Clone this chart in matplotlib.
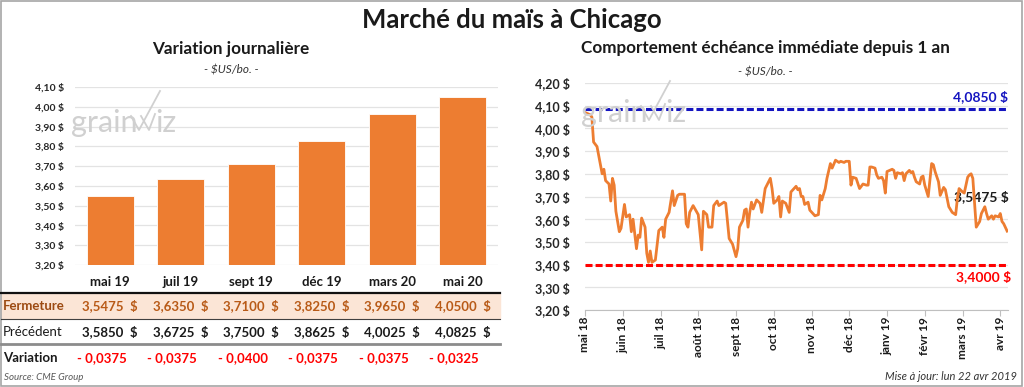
import matplotlib
matplotlib.use("Agg")
import matplotlib.pyplot as plt
from matplotlib.lines import Line2D
from matplotlib.patches import Rectangle
from matplotlib.transforms import blended_transform_factory

plt.rcParams['font.family'] = ['Lato', 'DejaVu Sans']

# ============================================================
# Data
# ============================================================

contracts = ["mai 19", "juil 19", "sept 19", "déc 19", "mars 20", "mai 20"]
closing = [3.5475, 3.6350, 3.7100, 3.8250, 3.9650, 4.0500]
previous = [3.5850, 3.6725, 3.7500, 3.8625, 4.0025, 4.0825]
change = [-0.0375, -0.0375, -0.0400, -0.0375, -0.0375, -0.0325]

month_labels = ["mai 18", "juin 18", "juil 18", "août 18", "sept 18", "oct 18",
                "nov 18", "déc 18", "janv 19", "févr 19", "mars 19", "avr 19"]
sessions_per_label = 22

# nearby contract, trading session index vs price ($US/bo.)
session = [0, 3, 4, 5, 7, 9, 10, 11, 12, 14, 15, 16, 17, 18, 20, 21, 23, 24, 26, 27,
           28, 30, 31, 32, 33, 35, 36, 37, 38, 39, 41, 43, 45, 46, 47, 49, 51, 52, 54, 55,
           58, 59, 60, 61, 63, 66, 68, 69, 71, 72, 74, 75, 77, 78, 81, 82, 84, 86, 88, 89,
           90, 92, 93, 94, 95, 96, 97, 98, 100, 102, 103, 105, 108, 109, 110, 112, 113, 114, 115, 117,
           119, 120, 123, 124, 125, 126, 127, 128, 130, 131, 134, 136, 137, 138, 140, 141, 143, 144, 146, 148,
           149, 151, 152, 154, 155, 156, 158, 160, 162, 164, 165, 166, 167, 169, 170, 171, 173, 174, 175, 176,
           179, 180, 181, 182, 184, 185, 186, 187, 189, 190, 191, 192, 193, 195, 196, 197, 198, 200, 202, 203,
           204, 206, 207, 209, 210, 212, 214, 216, 217, 218, 220, 221, 223, 224, 225, 226, 227, 228, 230, 231,
           233, 234, 235, 237, 238, 239, 241, 242, 243, 244, 246]
price = [4.07, 4.06, 4.05, 3.94, 3.92, 3.84, 3.80, 3.82, 3.77, 3.755, 3.68, 3.78, 3.75, 3.635, 3.545, 3.56, 3.665, 3.61, 3.62, 3.545,
         3.60, 3.47, 3.53, 3.52, 3.605, 3.565, 3.45, 3.41, 3.46, 3.41, 3.42, 3.55, 3.565, 3.52, 3.60, 3.63, 3.725, 3.66, 3.705, 3.71,
         3.71, 3.58, 3.565, 3.63, 3.66, 3.62, 3.465, 3.635, 3.62, 3.565, 3.565, 3.66, 3.68, 3.66, 3.675, 3.67, 3.515, 3.49, 3.435, 3.47,
         3.565, 3.595, 3.64, 3.645, 3.565, 3.63, 3.675, 3.645, 3.685, 3.67, 3.63, 3.735, 3.78, 3.735, 3.67, 3.685, 3.70, 3.61, 3.68, 3.67,
         3.63, 3.72, 3.745, 3.73, 3.735, 3.70, 3.70, 3.665, 3.675, 3.64, 3.615, 3.62, 3.705, 3.685, 3.735, 3.78, 3.845, 3.825, 3.86, 3.85,
         3.855, 3.85, 3.855, 3.855, 3.75, 3.785, 3.78, 3.735, 3.755, 3.75, 3.75, 3.83, 3.83, 3.825, 3.795, 3.78, 3.785, 3.77, 3.715, 3.81,
         3.82, 3.815, 3.78, 3.805, 3.80, 3.805, 3.77, 3.80, 3.815, 3.805, 3.81, 3.785, 3.765, 3.755, 3.785, 3.79, 3.75, 3.70, 3.845, 3.84,
         3.81, 3.765, 3.705, 3.74, 3.73, 3.655, 3.63, 3.62, 3.69, 3.735, 3.72, 3.715, 3.785, 3.795, 3.80, 3.78, 3.67, 3.565, 3.59, 3.625,
         3.655, 3.625, 3.60, 3.615, 3.60, 3.615, 3.61, 3.625, 3.59, 3.58, 3.5475]

high_1y = 4.0850
low_1y = 3.4000

# ============================================================
# Helpers
# ============================================================

W, H = 1024, 387
ORANGE = "#ED7D31"
GRID = "#E3E3E3"


def fx(x):
    return x / W


def fy(y):
    return 1 - y / H


def dollars(v, nd):
    return f"{v:.{nd}f}".replace(".", ",") + " $"


fig = plt.figure(figsize=(W / 100, H / 100), dpi=100)

# outer frame
fig.patches.append(Rectangle((0.001, 0.003), 0.997, 0.994, transform=fig.transFigure,
                             fill=False, edgecolor="#A6A6A6", lw=1.2))

fig.text(0.5, fy(20), "Marché du maïs à Chicago", ha="center", va="center",
         fontsize=18.5, fontweight="bold", color="#1a1a1a")

# ============================================================
# Left: daily variation bars + table
# ============================================================

fig.text(fx(231), fy(49), "Variation journalière", ha="center", va="center",
         fontsize=12.3, fontweight="bold", color="#1a1a1a")
fig.text(fx(231), fy(70), "- $US/bo. -", ha="center", va="center",
         fontsize=8.5, style="italic", color="#333333")

ax1 = fig.add_axes([fx(75), fy(265), (498 - 75) / W, (265 - 87) / H])
x_pos = list(range(len(contracts)))
ax1.bar(x_pos, closing, width=0.667, bottom=0, color=ORANGE, edgecolor="white", lw=0.6, zorder=3)
ax1.set_xlim(-0.5, len(contracts) - 0.5)
ax1.set_ylim(3.2, 4.1)
yt = [3.2 + 0.1 * i for i in range(10)]
ax1.set_yticks(yt)
ax1.set_yticklabels([dollars(v, 2) for v in yt], fontsize=7.5, fontweight="bold", color="#262626")
ax1.set_xticks(x_pos)
ax1.set_xticklabels(contracts, fontsize=9.5, fontweight="bold", color="#1a1a1a")
ax1.tick_params(axis="y", length=0, pad=8)
ax1.tick_params(axis="x", length=0, pad=8)
ax1.grid(axis="y", color=GRID, lw=0.9, zorder=0)
for s in ax1.spines.values():
    s.set_visible(False)

# table below the bars
tr = blended_transform_factory(ax1.transData, fig.transFigure)
fig.patches.append(Rectangle((fx(1), fy(318)), fx(499), fy(294) - fy(318),
                             transform=fig.transFigure, color="#FBE5D6", zorder=0))
fig.lines.append(Line2D([fx(1), fx(500)], [fy(293), fy(293)], transform=fig.transFigure,
                        color="#111111", lw=1.6))
fig.lines.append(Line2D([fx(1), fx(500)], [fy(318.5), fy(318.5)], transform=fig.transFigure,
                        color="#404040", lw=0.8))
fig.lines.append(Line2D([fx(1), fx(500)], [fy(344), fy(344)], transform=fig.transFigure,
                        color="#8C8C8C", lw=2.0))

BROWN = "#B85A17"
fig.text(fx(3), fy(306), "Fermeture", ha="left", va="center", fontsize=9.5,
         fontweight="bold", color="#9C4A12")
fig.text(fx(3), fy(332), "Précédent", ha="left", va="center", fontsize=9.5, color="#1a1a1a")
fig.text(fx(3), fy(358), "Variation", ha="left", va="center", fontsize=9.5,
         fontweight="bold", color="#1a1a1a")
for i in x_pos:
    fig.text(i, fy(306), f"{closing[i]:.4f}".replace(".", ",") + "  $", transform=tr,
             ha="center", va="center", fontsize=9.5, fontweight="bold", color=BROWN)
    fig.text(i, fy(332), f"{previous[i]:.4f}".replace(".", ",") + "  $", transform=tr,
             ha="center", va="center", fontsize=9.5, fontweight="bold", color="#1a1a1a")
    fig.text(i - 0.12, fy(358), f"- {abs(change[i]):.4f}".replace(".", ","), transform=tr,
             ha="center", va="center", fontsize=9.5, fontweight="bold", color="#FF0000")

fig.text(fx(4), fy(377), "Source: CME Group", ha="left", va="center", fontsize=7,
         style="italic", color="#595959")

# ============================================================
# Right: nearby contract over one year
# ============================================================

fig.text(fx(765), fy(48), "Comportement échéance immédiate depuis 1 an", ha="center",
         va="center", fontsize=12.3, fontweight="bold", color="#1a1a1a")
fig.text(fx(765), fy(72), "- $US/bo. -", ha="center", va="center",
         fontsize=8.5, style="italic", color="#333333")

ax2 = fig.add_axes([fx(585), fy(310), (1008 - 585) / W, (310 - 83) / H])
ax2.plot(session, price, color=ORANGE, lw=2.0, zorder=4)
ax2.axhline(high_1y, color="#1515C0", lw=2.2, dashes=(2.3, 1.0), zorder=3)
ax2.axhline(low_1y, color="#FF0000", lw=2.2, dashes=(2.3, 1.0), zorder=3)
ax2.set_xlim(0, session[-1] + 0.5)
ax2.set_ylim(3.2, 4.2)
yt2 = [3.2 + 0.1 * i for i in range(11)]
ax2.set_yticks(yt2)
ax2.set_yticklabels([dollars(v, 2) for v in yt2], fontsize=9, fontweight="bold", color="#262626")
xt = [i * sessions_per_label for i in range(len(month_labels))]
ax2.set_xticks(xt)
ax2.set_xticklabels(month_labels, rotation=90, fontsize=8.5, fontweight="bold", color="#1a1a1a")
ax2.tick_params(axis="y", length=0, pad=11)
ax2.tick_params(axis="x", length=4, width=0.8, color="#BFBFBF", pad=1)
ax2.grid(axis="y", color=GRID, lw=0.9, zorder=0)
for s in ["top", "right", "left"]:
    ax2.spines[s].set_visible(False)
ax2.spines["bottom"].set_color("#BFBFBF")

tr2 = blended_transform_factory(ax2.transAxes, ax2.transData)
ax2.annotate(dollars(high_1y, 4), xy=(1.0, high_1y), xycoords=tr2, xytext=(0, 4),
             textcoords="offset points", ha="right", va="bottom", fontsize=10,
             fontweight="bold", color="#1515C0")
ax2.annotate(dollars(low_1y, 4), xy=(1.0, low_1y), xycoords=tr2, xytext=(2, -4),
             textcoords="offset points", ha="right", va="top", fontsize=10,
             fontweight="bold", color="#FF0000", annotation_clip=False)
ax2.annotate(dollars(price[-1], 4), xy=(session[-1], price[-1]), xytext=(1, 25),
             textcoords="offset points", ha="right", va="center", fontsize=10,
             fontweight="bold", color="#1a1a1a")

fig.text(fx(1017), fy(377), "Mise à jour: lun 22 avr 2019", ha="right", va="center",
         fontsize=8, style="italic", color="#333333")

# ============================================================
# grainwiz watermarks
# ============================================================

WM = "#D0D0D0"
for gx, gy in [(71, 123), (581, 113)]:
    fig.text(fx(gx), fy(gy), "grain", ha="left", va="center", fontsize=22, color=WM)
    fig.lines.append(Line2D([fx(gx + 60), fx(gx + 68), fx(gx + 89)],
                            [fy(gy - 7), fy(gy + 7), fy(gy - 32)],
                            transform=fig.transFigure, color=WM, lw=1.3))
    fig.lines.append(Line2D([fx(gx + 70), fx(gx + 78), fx(gx + 84)],
                            [fy(gy - 7), fy(gy + 7), fy(gy - 9)],
                            transform=fig.transFigure, color=WM, lw=1.3))
    fig.text(fx(gx + 84), fy(gy), "iz", ha="left", va="center", fontsize=22, color=WM)

plt.savefig("out.png", dpi=100)
plt.close()
